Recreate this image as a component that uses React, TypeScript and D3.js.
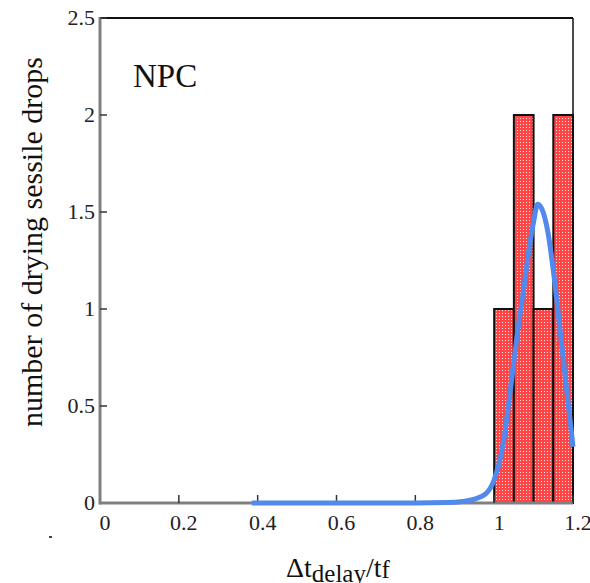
import React from "react";
import * as d3 from "d3";

const xTicks = [0, 0.2, 0.4, 0.6, 0.8, 1, 1.2];
const xTickLabels = ["0", "0.2", "0.4", "0.6", "0.8", "1", "1.2"];
const yTicks = [0, 0.5, 1, 1.5, 2, 2.5];
const yTickLabels = ["0", "0.5", "1", "1.5", "2", "2.5"];
const binStart = [1.0, 1.05, 1.1, 1.15];
const binEnd = [1.05, 1.1, 1.15, 1.2];
const binCount = [1, 2, 1, 2];
const fitX = [0.385, 0.5, 0.6, 0.7, 0.8, 0.88, 0.92, 0.95, 0.98, 1.0, 1.024, 1.041, 1.058, 1.076, 1.088, 1.101, 1.11, 1.12, 1.136, 1.153, 1.17, 1.187, 1.2];
const fitY = [0, 0, 0, 0, 0, 0.002, 0.008, 0.02, 0.05, 0.12, 0.32, 0.58, 0.86, 1.12, 1.3, 1.46, 1.54, 1.52, 1.4, 1.15, 0.84, 0.53, 0.29];
const panelLabel = "NPC";
const yTitle = "number of drying sessile drops";

const W = 590;
const H = 583;
const L = 100, R = 573, T = 18, B = 503;
const serif = "Liberation Serif, Times New Roman, serif";
const fs = (size: number) => ({ fontFamily: serif, fontSize: size });

export default function App() {
  const x = d3.scaleLinear().domain([0, 1.2]).range([L, R]);
  const y = d3.scaleLinear().domain([0, 2.5]).range([B, T]);
  const pts: [number, number][] = fitX.map((v, i) => [v, fitY[i]]);
  const line = d3
    .line<[number, number]>()
    .x((d) => x(d[0]))
    .y((d) => y(d[1]))
    .curve(d3.curveMonotoneX);

  return (
    <svg
      width={W}
      height={H}
      style={{ position: "absolute", left: 0, top: 0, background: "#fff" }}
    >
      <defs>
        <pattern id="dots" width="3" height="3" patternUnits="userSpaceOnUse">
          <rect width="3" height="3" fill="#ff4545" />
          <rect x="1" y="1" width="1" height="1" fill="#ffe4e4" />
        </pattern>
      </defs>
      <rect width={W} height={H} fill="#fff" />

      {/* frame top & right */}
      <line x1={L} x2={R} y1={T} y2={T} stroke="#111" strokeWidth={2} />
      <line x1={R} x2={R} y1={T} y2={B} stroke="#111" strokeWidth={1.5} />

      {/* bars */}
      {binStart.map((s, i) => (
        <rect
          key={i}
          x={x(s)}
          y={y(binCount[i])}
          width={x(binEnd[i]) - x(s)}
          height={y(0) - y(binCount[i])}
          fill="url(#dots)"
          stroke="#111"
          strokeWidth={2}
        />
      ))}

      {/* axes */}
      <line x1={L} x2={L} y1={T - 1} y2={B + 1.5} stroke="#808080" strokeWidth={3} />
      <line x1={L} x2={R} y1={B} y2={B} stroke="#808080" strokeWidth={3} />

      {/* y ticks */}
      {yTicks.map((t, i) => (
        <g key={"y" + i}>
          {i > 0 && (
            <line x1={L} x2={L + 7} y1={y(t)} y2={y(t)} stroke="#333" strokeWidth={1.5} />
          )}
          <text x={L - 5} y={y(t) + 7} textAnchor="end" style={fs(22)} fill="#222">
            {yTickLabels[i]}
          </text>
        </g>
      ))}
      {/* crop of the top label, as in the source image */}
      <rect x={50} y={0} width={48} height={11} fill="#fff" />

      {/* x ticks */}
      {xTicks.map((t, i) => (
        <g key={"x" + i}>
          {i > 0 && (
            <line x1={x(t)} x2={x(t)} y1={B} y2={B - 8} stroke="#333" strokeWidth={1.5} />
          )}
          <text x={x(t) + 5} y={B + 27} textAnchor="middle" style={fs(22)} fill="#222">
            {xTickLabels[i]}
          </text>
        </g>
      ))}

      {/* fit curve */}
      <path
        d={line(pts) || ""}
        fill="none"
        stroke="#5189ec"
        strokeWidth={5}
        strokeLinejoin="round"
      />

      {/* panel label */}
      <text x={133} y={87} style={fs(33)} fill="#111">
        {panelLabel}
      </text>

      {/* y title */}
      <text
        transform={`translate(42, 242) rotate(-90)`}
        textAnchor="middle"
        style={fs(30)}
        fill="#111"
      >
        {yTitle}
      </text>

      {/* x title */}
      <text x={286} y={577} style={fs(28)} fill="#111">
        <tspan>Δt</tspan>
        <tspan style={{ fontSize: 25 }} dy={5}>delay</tspan>
        <tspan dy={-5}>/t</tspan>
        <tspan style={{ fontSize: 25 }} dy={1}>f</tspan>
      </text>

      {/* stray mark */}
      <rect x={49} y={536} width={3} height={2} fill="#444" />
    </svg>
  );
}
